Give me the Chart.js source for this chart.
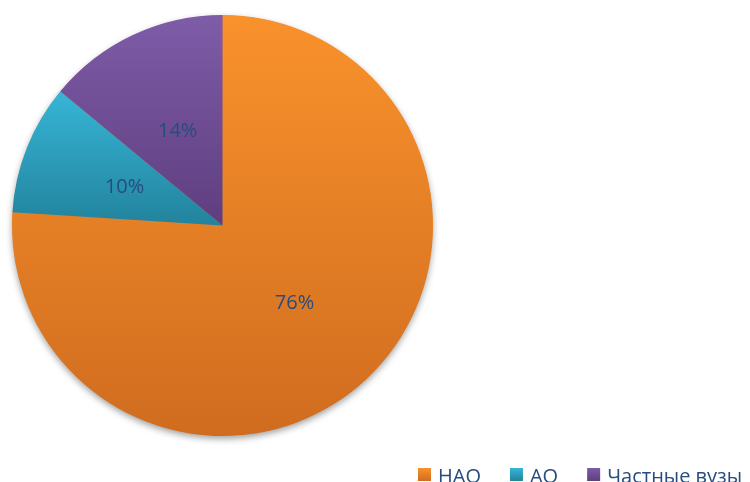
<!DOCTYPE html>
<html lang="ru">
<head>
  <meta charset="UTF-8" />
  <title>Вузы по форме собственности</title>
  <script src="https://cdn.jsdelivr.net/npm/chart.js"></script>
  <style>
    html, body {
      margin: 0;
      padding: 0;
      background: #fff;
      overflow: hidden;
    }
  </style>
</head>
<body>

<canvas id="chart" width="750" height="482"></canvas>

<script>
  // data
  const labels = ["НАО", "АО", "Частные вузы"];
  const shares = [76, 10, 14];

  // gradient ends for each slice (light top -> dark bottom)
  const topColors = ["#f9922c", "#37b5d7", "#7e5ca8"];
  const bottomColors = ["#d06c1f", "#22839d", "#5e3e7f"];
  const textColor = "#274c7e";

  // vertical extent of one slice, clockwise from 12 o'clock
  function sliceRange(i, cy, r) {
    const total = shares.reduce((a, b) => a + b, 0);
    let start = 0;
    for (let k = 0; k < i; k++) start += shares[k];
    const a0 = start / total * 2 * Math.PI;
    const a1 = (start + shares[i]) / total * 2 * Math.PI;
    const ys = [cy, cy - r * Math.cos(a0), cy - r * Math.cos(a1)];
    if (a0 <= Math.PI && a1 >= Math.PI) ys.push(cy + r);
    return [Math.min(...ys), Math.max(...ys)];
  }

  function sliceGradient(context) {
    const chart = context.chart;
    const area = chart.chartArea;
    const i = context.dataIndex || 0;
    if (!area) return topColors[i];
    const cx = (area.left + area.right) / 2;
    const cy = (area.top + area.bottom) / 2;
    const r = Math.min(area.width, area.height) / 2;
    const [y0, y1] = sliceRange(i, cy, r);
    const g = chart.ctx.createLinearGradient(0, y0, 0, y1);
    g.addColorStop(0, topColors[i]);
    g.addColorStop(1, bottomColors[i]);
    return g;
  }

  // soft shadow under the whole pie
  const pieShadow = {
    id: "pieShadow",
    beforeDatasetsDraw(chart) {
      const { ctx, chartArea: a } = chart;
      const cx = (a.left + a.right) / 2;
      const cy = (a.top + a.bottom) / 2;
      const r = Math.min(a.width, a.height) / 2;
      ctx.save();
      ctx.shadowColor = "rgba(0,0,0,0.4)";
      ctx.shadowBlur = 7;
      ctx.shadowOffsetY = 3;
      ctx.fillStyle = "#e0802a";
      ctx.beginPath();
      ctx.arc(cx, cy, r - 0.5, 0, 2 * Math.PI);
      ctx.fill();
      ctx.restore();
    }
  };

  // percentages in the middle of each slice
  const pctLabels = {
    id: "pctLabels",
    afterDatasetsDraw(chart) {
      const { ctx } = chart;
      const meta = chart.getDatasetMeta(0);
      ctx.save();
      ctx.font = '20px "Open Sans"';
      ctx.fillStyle = textColor;
      ctx.textAlign = "center";
      ctx.textBaseline = "middle";
      meta.data.forEach((arc, i) => {
        const p = arc.tooltipPosition();
        ctx.fillText(shares[i] + "%", p.x, p.y + 1);
      });
      ctx.restore();
    }
  };

  // legend in the bottom right corner, cut by the edge like the original
  const bottomLegend = {
    id: "bottomLegend",
    afterDraw(chart) {
      const { ctx } = chart;
      const box = 13;
      const boxTop = 468;
      const baseline = 483;
      let x = 418;
      ctx.save();
      ctx.font = '20px "Open Sans"';
      ctx.textBaseline = "alphabetic";
      labels.forEach((name, i) => {
        const g = ctx.createLinearGradient(0, boxTop, 0, boxTop + box);
        g.addColorStop(0, topColors[i]);
        g.addColorStop(1, bottomColors[i]);
        ctx.fillStyle = g;
        ctx.fillRect(x, boxTop, box, box);
        x += box + 7;
        ctx.fillStyle = textColor;
        ctx.fillText(name, x, baseline);
        x += ctx.measureText(name).width + 29;
      });
      ctx.restore();
    }
  };

  new Chart(document.getElementById("chart"), {
    type: "pie",
    data: {
      labels: labels,
      datasets: [{
        data: shares,
        backgroundColor: sliceGradient,
        borderWidth: 0
      }]
    },
    options: {
      responsive: false,
      animation: false,
      layout: {
        padding: { left: 12, top: 15, right: 317, bottom: 46 }
      },
      plugins: {
        legend: { display: false },
        tooltip: { enabled: false }
      }
    },
    plugins: [pieShadow, pctLabels, bottomLegend]
  });
</script>

</body>
</html>
